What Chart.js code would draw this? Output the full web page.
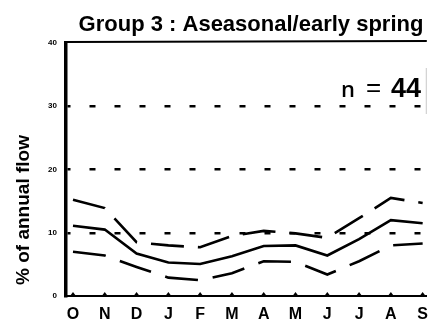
<!DOCTYPE html>
<html>
<head>
<meta charset="utf-8">
<script src="https://cdn.jsdelivr.net/npm/chart.js@4"></script>
<style>
  html, body { margin: 0; padding: 0; background: #fff; }
  #wrap { width: 437px; height: 335px; position: relative; }
</style>
</head>
<body>
<div id="wrap"><canvas id="flowChart" width="437" height="335"></canvas></div>
<script>
// months of the water year, October to September
const months = ['O', 'N', 'D', 'J', 'F', 'M', 'A', 'M', 'J', 'J', 'A', 'S'];
// % of annual flow per month
const meanFlow  = [11.1, 10.5, 6.7, 5.3, 5.05, 6.3, 7.9, 8.0, 6.4, 9.0, 12.0, 11.5];
const upperFlow = [15.2, 13.9, 8.5, 8.0, 7.7, 9.5, 10.3, 9.9, 9.2, 12.3, 15.5, 14.7];
const lowerFlow = [7.0, 6.4, 4.6, 2.9, 2.5, 3.6, 5.5, 5.4, 3.4, 5.5, 8.0, 8.3];
const yTicks = [0, 10, 20, 30, 40];
const dashedLevels = [10, 20, 30];

const titleText = 'Group 3 : Aseasonal/early spring';
const yTitle = '% of annual flow';
const sampleSize = '44';

const toPoints = arr => arr.map((v, i) => ({ x: i, y: v }));

// extra drawing: title, axis title, frame, tick marks, n label
const decorations = {
    id: 'decorations',
    afterDraw(chart) {
        const ctx = chart.ctx;
        const area = chart.chartArea;
        const xs = chart.scales.x;
        ctx.save();

        // top frame
        ctx.strokeStyle = '#000';
        ctx.lineWidth = 2;
        ctx.beginPath();
        ctx.moveTo(area.left, area.top - 1);
        ctx.lineTo(area.right, area.top - 2);
        ctx.stroke();

        // faint right edge
        ctx.strokeStyle = '#c8c8c8';
        ctx.lineWidth = 1;
        ctx.beginPath();
        ctx.moveTo(area.right - 0.5, 68);
        ctx.lineTo(area.right - 0.5, 114);
        ctx.stroke();

        // small month ticks on the x axis
        ctx.fillStyle = '#000';
        months.forEach((m, i) => {
            const px = xs.getPixelForValue(i);
            ctx.beginPath();
            ctx.moveTo(px - 3, area.bottom);
            ctx.lineTo(px, area.bottom - 4);
            ctx.lineTo(px + 3, area.bottom);
            ctx.closePath();
            ctx.fill();
        });

        // chart title
        ctx.fillStyle = '#000';
        ctx.font = 'bold 22px "Liberation Sans", Arial, sans-serif';
        ctx.textAlign = 'center';
        ctx.textBaseline = 'alphabetic';
        ctx.fillText(titleText, 251, 31);

        // y axis title
        ctx.save();
        ctx.translate(24, 210);
        ctx.rotate(-Math.PI / 2);
        ctx.font = 'bold 19px "Liberation Sans", Arial, sans-serif';
        ctx.textBaseline = 'middle';
        ctx.fillText(yTitle, 0, 0);
        ctx.restore();

        // sample size
        ctx.textAlign = 'left';
        ctx.font = '600 22px "Open Sans", "Liberation Sans", sans-serif';
        ctx.fillText('n', 341, 97);
        ctx.font = '26px "Liberation Sans", Arial, sans-serif';
        ctx.fillText('=', 366, 96);
        ctx.font = 'bold 27px "Liberation Sans", Arial, sans-serif';
        ctx.fillText(sampleSize, 391, 97);

        ctx.restore();
    }
};

const ctx = document.getElementById('flowChart').getContext('2d');
const flowChart = new Chart(ctx, {
    type: 'line',
    data: {
        datasets: [{
            label: 'upper',
            data: toPoints(upperFlow),
            borderColor: '#000',
            borderWidth: 2.6,
            borderDash: [33, 14],
            pointRadius: 0,
            fill: false,
            tension: 0
        }, {
            label: 'mean',
            data: toPoints(meanFlow),
            borderColor: '#000',
            borderWidth: 2.6,
            pointRadius: 0,
            fill: false,
            tension: 0
        }, {
            label: 'lower',
            data: toPoints(lowerFlow),
            borderColor: '#000',
            borderWidth: 2.6,
            borderDash: [33, 15],
            pointRadius: 0,
            fill: false,
            tension: 0
        }]
    },
    options: {
        responsive: false,
        animation: false,
        devicePixelRatio: 1,
        layout: { padding: { top: 43, right: 1, left: 0, bottom: 0 } },
        plugins: {
            legend: { display: false },
            title: { display: false },
            tooltip: { enabled: false }
        },
        scales: {
            x: {
                type: 'linear',
                min: -0.22,
                max: 11.13,
                afterBuildTicks: scale => {
                    scale.ticks = months.map((m, i) => ({ value: i }));
                },
                afterFit: scale => { scale.height = 39; },
                grid: { display: false, drawTicks: false },
                border: { display: true, color: '#000', width: 2 },
                ticks: {
                    autoSkip: false,
                    maxRotation: 0,
                    padding: 9,
                    color: '#000',
                    font: { family: '"Liberation Sans", Arial, sans-serif', size: 16, weight: 'bold' },
                    callback: value => months[value]
                }
            },
            y: {
                min: 0,
                max: 40,
                afterBuildTicks: scale => {
                    scale.ticks = yTicks.map(v => ({ value: v }));
                },
                afterFit: scale => { scale.width = 66; },
                grid: {
                    drawTicks: false,
                    lineWidth: 2.5,
                    color: c => dashedLevels.includes(c.tick && c.tick.value) ? '#000' : 'rgba(0,0,0,0)'
                },
                border: { display: true, color: '#000', width: 3.5, dash: [6, 19], dashOffset: 3 },
                ticks: {
                    padding: 9,
                    color: '#000',
                    font: { family: '"Liberation Sans", Arial, sans-serif', size: 8, weight: 'bold' }
                }
            }
        }
    },
    plugins: [decorations]
});
</script>
</body>
</html>
